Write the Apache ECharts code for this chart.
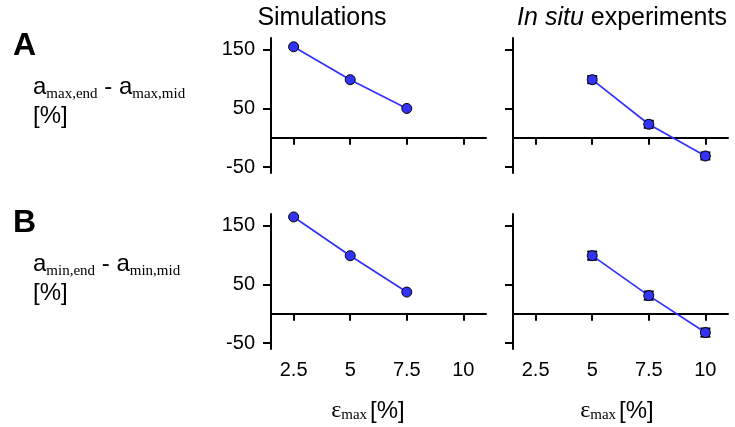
<!DOCTYPE html>
<html>
<head>
<meta charset="utf-8">
<script src="https://cdn.jsdelivr.net/npm/echarts@6/dist/echarts.min.js"></script>
<style>
html,body{margin:0;padding:0;background:#fff;}
#chart{width:735px;height:427px;}
</style>
</head>
<body>
<div id="chart"></div>
<script>
// ---- data ----
var xTicks = [2.5, 5, 7.5, 10];
var yTicks = [-50, 50, 150];
var xSim = [2.5, 5, 7.5];
var simA = [155, 99, 50];
var simB = [165, 99, 37];
var xExp = [5, 7.5, 10];
var expA = [99, 23, -31];
var expAErr = [6, 6, 6];
var expB = [99, 31, -32];
var expBErr = [7, 7, 7];

function pairs(xs, ys) { return xs.map(function (x, i) { return [x, ys[i]]; }); }
function errData(xs, ys, es) { return xs.map(function (x, i) { return [x, ys[i] - es[i], ys[i] + es[i]]; }); }

var SANS = 'Liberation Sans, Arial, sans-serif';
var SERIF = 'Liberation Serif, Times New Roman, serif';
var chart = echarts.init(document.getElementById('chart'), null, {renderer: 'canvas'});

var grids = [
  {left: 271, top: 38, width: 215, height: 135},
  {left: 513, top: 38, width: 215, height: 135},
  {left: 271, top: 214, width: 215, height: 135},
  {left: 513, top: 214, width: 215, height: 135}
];

var axisLineStyle = {color: '#000', width: 2};
var xAxes = [], yAxes = [];
grids.forEach(function (g, i) {
  xAxes.push({
    type: 'value', gridIndex: i, min: 1.5, max: 11,
    axisLine: {show: true, onZero: true, lineStyle: axisLineStyle},
    axisTick: {show: true, customValues: xTicks, length: 7, lineStyle: {color: '#000', width: 2}},
    axisLabel: {show: false},
    splitLine: {show: false}
  });
  yAxes.push({
    type: 'value', gridIndex: i, min: -60, max: 170,
    axisLine: {show: true, onZero: false, lineStyle: axisLineStyle},
    axisTick: {show: true, customValues: yTicks, length: 8, lineStyle: {color: '#000', width: 2}},
    axisLabel: {show: (i % 2 === 0), customValues: yTicks, fontSize: 20, color: '#000', fontFamily: SANS, margin: 16},
    splitLine: {show: false}
  });
});
[2, 3].forEach(function (i) {
  xAxes.push({
    type: 'value', gridIndex: i, min: 1.5, max: 11, position: 'bottom',
    axisLine: {show: false, onZero: false},
    axisTick: {show: false},
    axisLabel: {show: true, customValues: xTicks, fontSize: 20, color: '#000', fontFamily: SANS, margin: 11},
    splitLine: {show: false}
  });
});

var errRender = function (params, api) {
  var x = api.value(0);
  var lo = api.coord([x, api.value(1)]);
  var hi = api.coord([x, api.value(2)]);
  var w = 5;
  var st = {stroke: '#000', lineWidth: 2};
  return {
    type: 'group',
    children: [
      {type: 'line', shape: {x1: lo[0], y1: lo[1], x2: hi[0], y2: hi[1]}, style: st},
      {type: 'line', shape: {x1: lo[0] - w, y1: lo[1], x2: lo[0] + w, y2: lo[1]}, style: st},
      {type: 'line', shape: {x1: hi[0] - w, y1: hi[1], x2: hi[0] + w, y2: hi[1]}, style: st}
    ]
  };
};

function lineSeries(xi, yi, data) {
  return {
    type: 'line', xAxisIndex: xi, yAxisIndex: yi, data: data, z: 3,
    symbol: 'circle', symbolSize: 10,
    itemStyle: {color: '#3333f5', borderColor: '#000', borderWidth: 1},
    lineStyle: {color: '#3030ff', width: 1.7},
    animation: false
  };
}
function errSeries(xi, yi, data) {
  return {type: 'custom', xAxisIndex: xi, yAxisIndex: yi, data: data, renderItem: errRender, z: 2, animation: false};
}

var ylabRich = {
  a: {fontFamily: SANS, fontSize: 24, fontWeight: 'normal', color: '#000', lineHeight: 29},
  s: {fontFamily: SERIF, fontSize: 15, fontWeight: 'normal', color: '#000', verticalAlign: 'bottom', lineHeight: 29}
};
var nameRich = {
  e: {fontFamily: SERIF, fontSize: 24, fontWeight: 'normal', color: '#000'},
  s: {fontFamily: SERIF, fontSize: 15, fontWeight: 'normal', color: '#000', verticalAlign: 'bottom'},
  p: {fontFamily: SANS, fontSize: 24, fontWeight: 'normal', color: '#000', padding: [0, 0, 0, 3]}
};
var plain = {fontFamily: SANS, fontSize: 25, fontWeight: 'normal', color: '#000'};

chart.setOption({
  backgroundColor: '#fff',
  animation: false,
  title: [
    {text: 'Simulations', left: 317, top: 1, textAlign: 'center', textStyle: plain},
    {text: '{i|In situ}{n| experiments}', left: 617, top: 1, textAlign: 'center', textStyle: {rich: {
      i: {fontFamily: SANS, fontSize: 25, fontStyle: 'italic', fontWeight: 'normal', color: '#000'},
      n: {fontFamily: SANS, fontSize: 25, fontWeight: 'normal', color: '#000'}}}},
    {text: 'A', left: 8, top: 25, textStyle: {fontFamily: SANS, fontSize: 32, fontWeight: 'bold', color: '#000'}},
    {text: 'B', left: 8, top: 202, textStyle: {fontFamily: SANS, fontSize: 32, fontWeight: 'bold', color: '#000'}},
    {text: '{a|a}{s|max,end}{a| - a}{s|max,mid}\n{a|[%]}', left: 28, top: 68, textStyle: {rich: ylabRich}},
    {text: '{a|a}{s|min,end}{a| - a}{s|min,mid}\n{a|[%]}', left: 28, top: 245, textStyle: {rich: ylabRich}},
    {text: '{e|ε}{s|max}{p|[%]}', left: 363, top: 394, textAlign: 'center', textStyle: {rich: nameRich}},
    {text: '{e|ε}{s|max}{p|[%]}', left: 612, top: 394, textAlign: 'center', textStyle: {rich: nameRich}}
  ],
  grid: grids,
  xAxis: xAxes,
  yAxis: yAxes,
  series: [
    lineSeries(0, 0, pairs(xSim, simA)),
    errSeries(1, 1, errData(xExp, expA, expAErr)),
    lineSeries(1, 1, pairs(xExp, expA)),
    lineSeries(2, 2, pairs(xSim, simB)),
    errSeries(3, 3, errData(xExp, expB, expBErr)),
    lineSeries(3, 3, pairs(xExp, expB))
  ]
});
</script>
</body>
</html>
